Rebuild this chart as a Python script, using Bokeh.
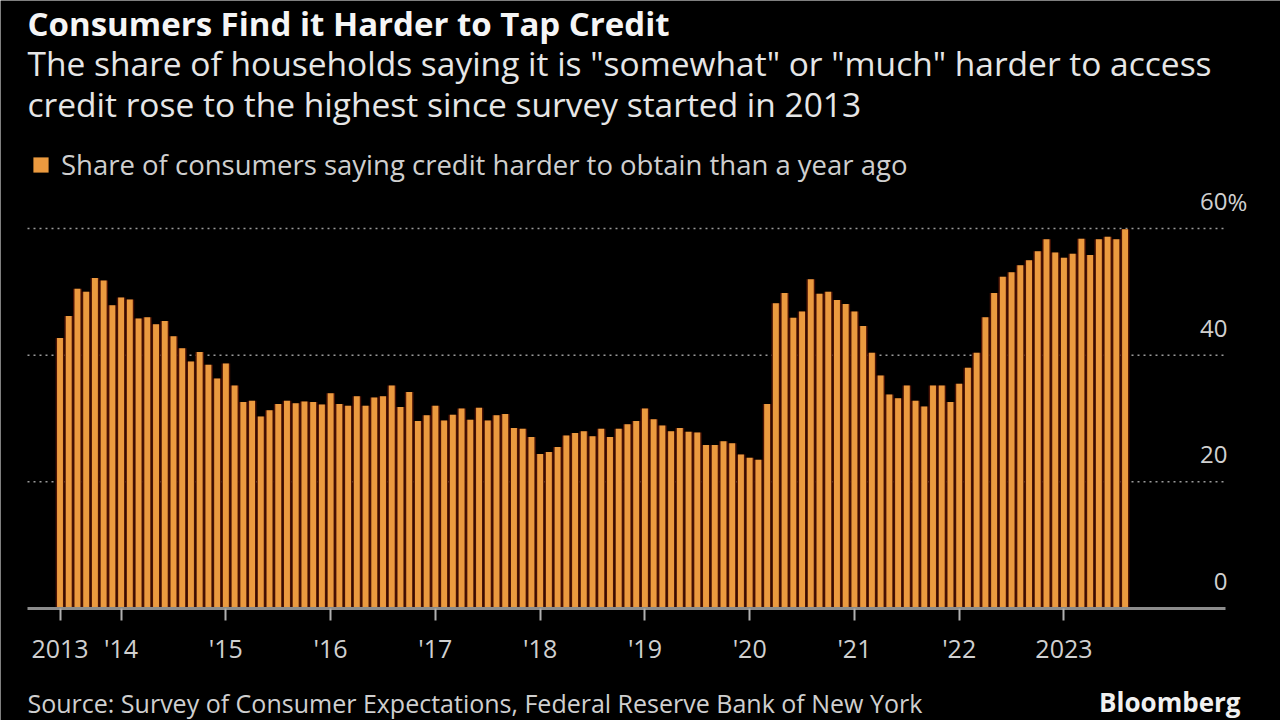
import pandas as pd
from bokeh.plotting import figure
from bokeh.models import (ColumnDataSource, FixedTicker, Label, Legend, LegendItem, Range1d)
from bokeh.core.properties import value
from bokeh.embed import file_html
from bokeh.resources import INLINE

# ---------------- data ----------------
values = [
    42.7, 46.2, 50.5, 50.0, 52.2, 51.8, 47.9,                    # Jun-Dec 2013
    49.1, 48.8, 45.8, 46.0, 44.9, 45.4, 43.0, 41.1, 39.0, 40.5, 38.5, 36.3,  # 2014
    38.7, 35.2, 32.6, 32.8, 30.3, 31.3, 32.3, 32.8, 32.4, 32.7, 32.6, 32.2,  # 2015
    34.0, 32.3, 32.0, 33.5, 32.0, 33.3, 33.5, 35.2, 31.8, 34.2, 29.6, 30.5,  # 2016
    32.0, 29.7, 30.6, 31.6, 29.8, 31.7, 29.7, 30.5, 30.7, 28.5, 28.4, 27.1,  # 2017
    24.4, 24.7, 25.5, 27.3, 27.7, 28.0, 27.2, 28.4, 27.1, 28.4, 29.1, 29.6,  # 2018
    31.6, 29.9, 28.9, 28.0, 28.5, 27.9, 27.8, 25.8, 25.8, 26.4, 26.1, 24.3,  # 2019
    23.8, 23.5, 32.3, 48.2, 49.8, 45.9, 46.9, 52.0, 49.7, 50.0, 48.7, 48.1,  # 2020
    46.9, 44.6, 40.4, 36.8, 33.8, 33.2, 35.2, 32.8, 31.9, 35.2, 35.2, 32.6,  # 2021
    35.5, 38.0, 40.4, 46.0, 49.8, 52.4, 53.1, 54.2, 55.0, 56.4, 58.3, 56.2,  # 2022
    55.4, 56.0, 58.4, 55.8, 58.3, 58.7, 58.3, 59.9,                          # Jan-Aug 2023
]
months = pd.date_range("2013-06-01", periods=len(values), freq="MS")
x_idx = list(range(len(values)))
tick_idx = [0] + [i for i, m in enumerate(months) if m.month == 1]
tick_labels = ["2013", "'14", "'15", "'16", "'17", "'18", "'19", "'20", "'21", "'22", "2023"]
y_ticks = [0, 20, 40, 60]
y_tick_labels = ["0", "20", "40", "60"]
grid_ticks = [20, 40, 60]

title = "Consumers Find it Harder to Tap Credit"
subtitle1 = 'The share of households saying it is "somewhat" or "much" harder to access'
subtitle2 = "credit rose to the highest since survey started in 2013"
legend_label = "Share of consumers saying credit harder to obtain than a year ago"
source_text = "Source: Survey of Consumer Expectations, Federal Reserve Bank of New York"

# ---------------- layout (page pixel mapping) ----------------
W, H = 1280, 720
PXU = 8.73          # px per month
X_FIRST = 59.5      # page x of first bar
YPX = 6.333         # px per percentage point
Y_ZERO = 608.0      # page y of the zero line
PLOT_L, PLOT_R = 27, 1225
BASE_K = 0.4        # baseline correction (fraction of font size)

X0 = -X_FIRST / PXU
X1 = X0 + W / PXU
Y1 = Y_ZERO / YPX
Y0 = Y1 - H / YPX


def dx(px):
    return X0 + px / PXU


def dy(py):
    return (Y_ZERO - py) / YPX


def base(py, size):
    """data y for a text whose baseline should sit at page y = py"""
    return dy(py - BASE_K * size)


FONT = "Open Sans"
ORANGE = "#EB9A3F"
LABEL_GREY = "#d0d0d0"

p = figure(width=W, height=H, x_range=Range1d(X0, X1), y_range=Range1d(Y0, Y1),
           output_backend="svg", toolbar_location=None, y_axis_location=None,
           min_border_left=0, min_border_right=0, min_border_top=0,
           min_border_bottom=0, background_fill_color="black",
           border_fill_color="black")
p.outline_line_color = None
p.xgrid.visible = False
p.ygrid.visible = False

# dotted grid lines
p.segment(x0=[dx(PLOT_L)] * len(grid_ticks), x1=[dx(PLOT_R)] * len(grid_ticks),
          y0=grid_ticks, y1=grid_ticks, line_color="#9a9a9a", line_dash="2 4",
          line_width=1.5)

src = ColumnDataSource(dict(x=x_idx, v=values))
p.vbar(x="x", top="v", width=1.0, source=src, fill_color="#4a1204", line_color=None)
bars = p.vbar(x="x", top="v", width=0.68, source=src, fill_color=ORANGE, line_color=None)

ax = p.xaxis[0]
ax.fixed_location = 0
ax.bounds = (dx(PLOT_L), dx(PLOT_R))
ax.ticker = FixedTicker(ticks=tick_idx)
ax.major_label_overrides = {t: l for t, l in zip(tick_idx, tick_labels)}
ax.axis_line_color = "#8c8c8c"
ax.axis_line_width = 3
ax.major_tick_line_color = "#b0b0b0"
ax.major_tick_line_width = 2
ax.major_tick_out = 12
ax.major_tick_in = 0
ax.minor_tick_line_color = None
ax.major_label_text_font = FONT
ax.major_label_text_font_size = "25px"
ax.major_label_text_color = LABEL_GREY
ax.major_label_standoff = 10

# y tick labels (inside, right side, above grid lines)
YL_SIZE = 24
y_lab_off = (17.5 + BASE_K * YL_SIZE) / YPX
ysrc = ColumnDataSource(dict(y=[v + y_lab_off for v in y_ticks], t=y_tick_labels,
                             x=[dx(1227)] * len(y_ticks)))
p.text(x="x", y="y", text="t", source=ysrc, text_align="right",
       text_baseline="alphabetic", text_font=value(FONT),
       text_font_size=f"{YL_SIZE}px", text_color=LABEL_GREY)
p.add_layout(Label(x=dx(1227), y=y_ticks[-1] + y_lab_off, text="%", text_align="left",
                   text_baseline="alphabetic", text_font=FONT,
                   text_font_size=f"{YL_SIZE}px", text_color=LABEL_GREY))

# titles
p.add_layout(Label(x=dx(27), y=base(36.5, 33), text=title, text_font=FONT,
                   text_font_style="bold", text_font_size="33px",
                   text_color="#f5f5f5", text_baseline="alphabetic"))
p.add_layout(Label(x=dx(27), y=base(76, 33.5), text=subtitle1, text_font=FONT,
                   text_font_size="33.5px", text_color="#e6e6e6",
                   text_baseline="alphabetic"))
p.add_layout(Label(x=dx(27), y=base(117, 33.5), text=subtitle2, text_font=FONT,
                   text_font_size="33.5px", text_color="#e6e6e6",
                   text_baseline="alphabetic"))

# legend
legend = Legend(items=[LegendItem(label=legend_label, renderers=[bars])],
                location=(31, H - 183), orientation="horizontal",
                padding=0, margin=0, spacing=0, glyph_width=19, glyph_height=19,
                label_standoff=11, label_height=19, label_text_font=FONT,
                label_text_font_size="27.5px", label_text_color="#cfcfcf",
                background_fill_alpha=0, border_line_color=None)
p.add_layout(legend, "center")

# footer
p.add_layout(Label(x=dx(27), y=base(712, 25), text=source_text, text_font=FONT,
                   text_font_size="25px", text_color="#cfcfcf",
                   text_baseline="alphabetic"))
p.add_layout(Label(x=dx(1240), y=base(712, 26), text="Bloomberg", text_font=FONT,
                   text_font_style="bold", text_font_size="26px",
                   text_color="#f0f0f0", text_align="right",
                   text_baseline="alphabetic"))

open("out.html", "w").write(file_html(p, INLINE))
